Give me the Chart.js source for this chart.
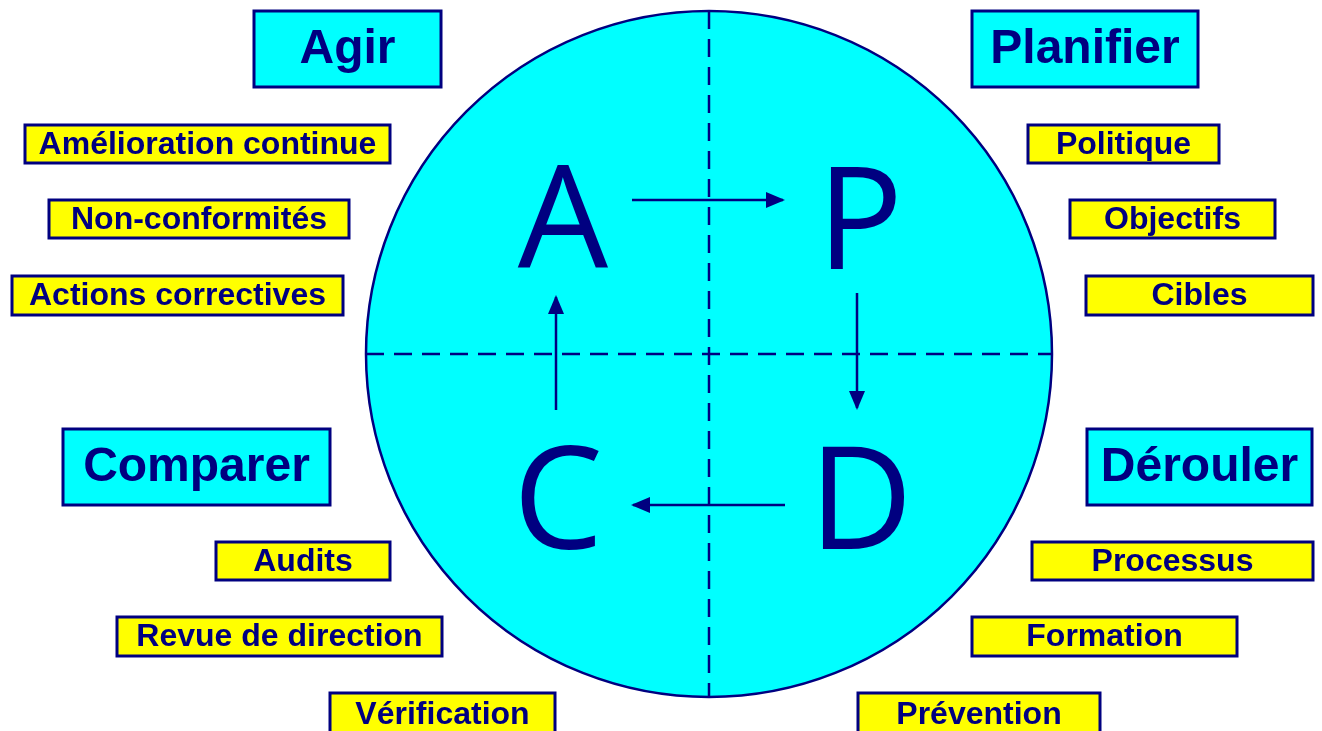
<!DOCTYPE html>
<html>
<head>
<meta charset="utf-8">
<title>Roue PDCA</title>
<script src="https://cdn.jsdelivr.net/npm/chart.js@4.4.1/dist/chart.umd.min.js"></script>
<style>
    html, body { margin: 0; padding: 0; background: #fff; overflow: hidden; }
    #wrap { width: 1322px; height: 731px; }
</style>
</head>
<body>
<div id="wrap"><canvas id="pdcaChart" width="1322" height="731"></canvas></div>
<script>
/*==============================================================
    DATA
==============================================================*/
const stageLetters = ["P", "D", "C", "A"];
const stageNames = ["Planifier", "Dérouler", "Comparer", "Agir"];
const planItems = ["Politique", "Objectifs", "Cibles"];
const doItems = ["Processus", "Formation", "Prévention"];
const checkItems = ["Audits", "Revue de direction", "Vérification"];
const actItems = ["Amélioration continue", "Non-conformités", "Actions correctives"];

/*==============================================================
    LAYOUT (diagram units = pixels of the 1322 x 731 picture)
==============================================================*/
const NAVY = "#000080";
const CYAN = "#00ffff";
const YELLOW = "#ffff00";

const wheel = { x: 709, y: 354, r: 343 };
const letterAt = [[860, 269], [861, 549], [558, 549], [563, 267]];
const stageBoxAt = [
    [972, 11, 1198, 87],
    [1087, 429, 1312, 505],
    [63, 429, 330, 505],
    [254, 11, 441, 87]
];
const itemBoxAt = [
    [[1028, 125, 1219, 163], [1070, 200, 1275, 238], [1086, 276, 1313, 315]],
    [[1032, 542, 1313, 580], [972, 617, 1237, 656], [858, 693, 1100, 735]],
    [[216, 542, 390, 580], [117, 617, 442, 656], [330, 693, 555, 735]],
    [[25, 125, 390, 163], [49, 200, 349, 238], [12, 276, 343, 315]]
];
const arrowPaths = [
    [[632, 200], [783, 200]],   // A -> P
    [[857, 293], [857, 408]],   // P -> D
    [[785, 505], [633, 505]],   // D -> C
    [[556, 410], [556, 297]]    // C -> A
];

/*==============================================================
    DATASETS
==============================================================*/
function toPts(path) {
    return path.map(function (p) { return { x: p[0], y: p[1] }; });
}

function buildDatasets() {
    let sets = [];
    sets.push({
        type: "bubble",
        data: [{ x: wheel.x, y: wheel.y, r: wheel.r }],
        backgroundColor: CYAN,
        borderColor: NAVY,
        borderWidth: 2.5,
        order: 10,
        clip: false
    });
    // dashed axes of the wheel
    [
        [[wheel.x, wheel.y - wheel.r], [wheel.x, wheel.y + wheel.r]],
        [[wheel.x - wheel.r, wheel.y], [wheel.x + wheel.r, wheel.y]]
    ].forEach(function (path) {
        sets.push({
            type: "line",
            data: toPts(path),
            borderColor: NAVY,
            borderWidth: 2.5,
            borderDash: [18, 10],
            pointRadius: 0,
            order: 5
        });
    });
    arrowPaths.forEach(function (path) {
        sets.push({
            type: "line",
            data: toPts(path),
            borderColor: NAVY,
            borderWidth: 2.5,
            pointRadius: 0,
            arrow: true,
            order: 1
        });
    });
    return sets;
}

/*==============================================================
    PLUGIN: arrow heads, boxes, letters
==============================================================*/
function boxRect(chart, b) {
    const sx = chart.scales.x, sy = chart.scales.y;
    const x1 = sx.getPixelForValue(b[0]), y1 = sy.getPixelForValue(b[1]);
    const x2 = sx.getPixelForValue(b[2]), y2 = sy.getPixelForValue(b[3]);
    return { x: x1, y: y1, w: x2 - x1, h: y2 - y1 };
}

function drawBox(ctx, r, fill, lw, text, font) {
    ctx.fillStyle = fill;
    ctx.fillRect(r.x, r.y, r.w, r.h);
    ctx.lineWidth = lw;
    ctx.strokeStyle = NAVY;
    ctx.strokeRect(r.x, r.y, r.w, r.h);
    ctx.fillStyle = NAVY;
    ctx.font = font;
    ctx.textAlign = "center";
    ctx.textBaseline = "middle";
    ctx.fillText(text, r.x + r.w / 2, r.y + r.h / 2 + 1);
}

const pdcaPlugin = {
    id: "pdca",
    afterDatasetsDraw: function (chart) {
        const ctx = chart.ctx;
        const sx = chart.scales.x, sy = chart.scales.y;
        ctx.save();

        // arrow heads
        chart.data.datasets.forEach(function (ds, i) {
            if (!ds.arrow) return;
            const pts = chart.getDatasetMeta(i).data;
            const a = pts[pts.length - 2], b = pts[pts.length - 1];
            const ang = Math.atan2(b.y - a.y, b.x - a.x);
            ctx.save();
            ctx.translate(b.x, b.y);
            ctx.rotate(ang);
            ctx.beginPath();
            ctx.moveTo(2, 0);
            ctx.lineTo(-17, -8);
            ctx.lineTo(-17, 8);
            ctx.closePath();
            ctx.fillStyle = NAVY;
            ctx.fill();
            ctx.restore();
        });

        // big letters
        ctx.fillStyle = NAVY;
        ctx.font = "143px 'Open Sans', 'Noto Sans', sans-serif";
        ctx.textAlign = "center";
        ctx.textBaseline = "alphabetic";
        stageLetters.forEach(function (l, i) {
            ctx.fillText(l, sx.getPixelForValue(letterAt[i][0]), sy.getPixelForValue(letterAt[i][1]));
        });

        // stage boxes
        stageNames.forEach(function (name, i) {
            drawBox(ctx, boxRect(chart, stageBoxAt[i]), CYAN, 3, name,
                "bold 48px 'Liberation Sans', Arial, sans-serif");
        });

        // item boxes
        [planItems, doItems, checkItems, actItems].forEach(function (items, s) {
            items.forEach(function (txt, k) {
                drawBox(ctx, boxRect(chart, itemBoxAt[s][k]), YELLOW, 3, txt,
                    "bold 32px 'Liberation Sans', Arial, sans-serif");
            });
        });

        ctx.restore();
    }
};

/*==============================================================
    CHART
==============================================================*/
new Chart(document.getElementById("pdcaChart"), {
    type: "scatter",
    data: { datasets: buildDatasets() },
    options: {
        responsive: false,
        animation: false,
        devicePixelRatio: 1,
        layout: { padding: 0, autoPadding: false },
        plugins: {
            legend: { display: false },
            tooltip: { enabled: false }
        },
        scales: {
            x: { type: "linear", min: 0, max: 1322, display: false },
            y: { type: "linear", min: 0, max: 731, reverse: true, display: false }
        }
    },
    plugins: [pdcaPlugin]
});
</script>
</body>
</html>
